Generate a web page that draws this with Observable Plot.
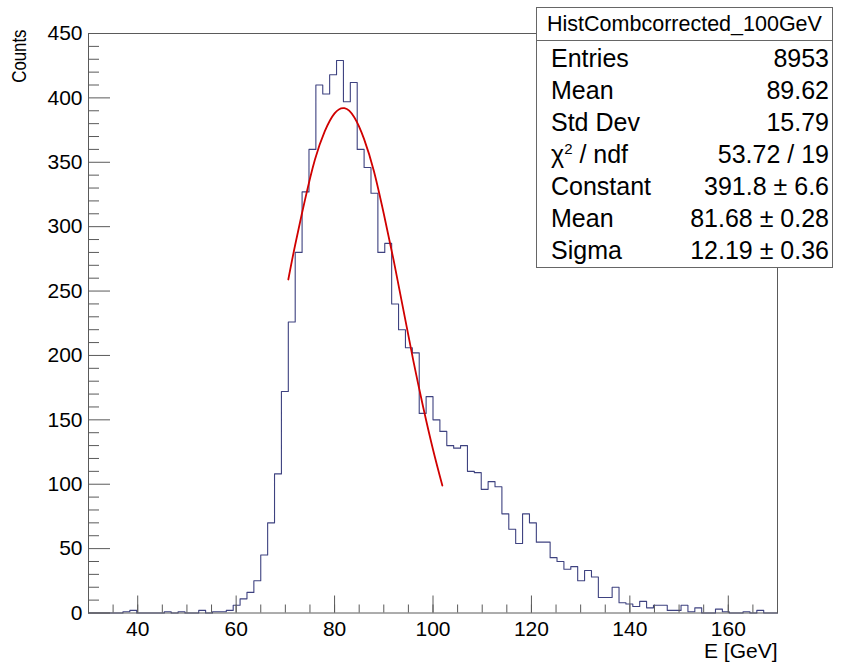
<!DOCTYPE html>
<html><head><meta charset="utf-8">
<script src="https://cdn.jsdelivr.net/npm/d3@7"></script>
<script src="https://cdn.jsdelivr.net/npm/@observablehq/plot@0.6"></script>
<style>
html,body{margin:0;padding:0;background:#fff;}
body{font-family:"Liberation Sans",Arial,Helvetica,sans-serif;}
#wrap{position:relative;width:842px;height:663px;overflow:hidden;background:#fff;}
#wrap svg{position:absolute;left:0;top:0;}
#stats{position:absolute;left:536px;top:7px;width:297px;height:261px;border:1px solid #666;background:#fff;box-sizing:border-box;color:#000;}
#stats .hdr{height:33px;line-height:33px;text-align:center;font-size:21.5px;border-bottom:1px solid #666;box-sizing:border-box;}
#stats .row{position:absolute;left:14px;right:3px;height:32px;line-height:32px;font-size:25px;display:flex;justify-content:space-between;white-space:nowrap;}
#stats sup{font-size:15px;line-height:0;vertical-align:9px;}
</style>
</head><body>
<div id="wrap"></div>
<script>
// Histogram: 100 bins from 30 to 170 GeV (bin width 1.4 GeV)
const binLow = 30;
const binWidth = 1.4;
const counts = [
  0,0,0,0,0,1,2,0,0,0,
  0,1,0,1,0,0,2,0,1,1,
  2,6,11,16,25,45,70,108,172,226,
  280,327,360,410,403,418,429,397,412,360,
  346,326,280,287,240,220,206,202,155,168,
  150,141,130,128,130,110,109,96,102,98,
  77,65,54,77,70,55,55,43,40,34,
  36,25,33,28,12,12,20,8,7,5,
  9,4,6,6,2,2,6,1,4,0,
  0,3,1,0,0,1,0,2,0,0
];
// Gaussian fit curve
const fitE =      [70.6, 72, 74, 76, 78, 80, 82, 84, 86, 88, 90, 92, 94, 96, 98, 100, 101.9];
const fitCounts = [259, 286, 321, 352, 374, 388, 392, 385, 368, 343, 310, 274, 235, 196, 160, 127, 99];

const xTicks = [40, 60, 80, 100, 120, 140, 160];
const xMinorTicks = [35,40,45,50,55,60,65,70,75,80,85,90,95,100,105,110,115,120,125,130,135,140,145,150,155,160,165];
const yTicks = [0, 50, 100, 150, 200, 250, 300, 350, 400, 450];
const yMinorTicks = [10,20,30,40,60,70,80,90,110,120,130,140,160,170,180,190,210,220,230,240,260,270,280,290,310,320,330,340,360,370,380,390,410,420,430,440];

const statTitle = "HistCombcorrected_100GeV";
const statNames = ["Entries", "Mean", "Std Dev", "χ<sup>2</sup> / ndf", "Constant", "Mean", "Sigma"];
const statValues = ["8953", "89.62", "15.79", "53.72 / 19", "391.8 ± 6.6", "81.68 ± 0.28", "12.19 ± 0.36"];

const hist = counts.map((c, i) => ({e: binLow + i * binWidth, c}));
hist.push({e: binLow + counts.length * binWidth, c: counts[counts.length - 1]});
const fit = fitE.map((e, i) => ({e, c: fitCounts[i]}));

const font = "'Liberation Sans', Arial, Helvetica, sans-serif";
const axisColor = "#5a5a5a";

const chart = Plot.plot({
  width: 842,
  height: 663,
  marginLeft: 88,
  marginRight: 65,
  marginTop: 33,
  marginBottom: 50.5,
  x: {domain: [30, 170]},
  y: {domain: [0, 450]},
  style: {fontFamily: font, fontSize: "21px", color: "#000", background: "transparent", overflow: "visible"},
  marks: [
    Plot.lineY(hist, {x: "e", y: "c", curve: "step-after", stroke: "#3e4280", strokeWidth: 1.1}),
    Plot.line(fit, {x: "e", y: "c", curve: "natural", stroke: "#d00000", strokeWidth: 1.8}),
    Plot.frame({stroke: axisColor}),
    Plot.axisX({ticks: xMinorTicks, tickSize: -8, tickFormat: () => "", stroke: axisColor, label: null}),
    Plot.axisX({ticks: xTicks, tickSize: -17, tickFormat: () => "", stroke: axisColor, label: null}),
    Plot.axisX({ticks: xTicks, tickSize: 0, tickPadding: 8, fontSize: 21, fill: "#000", label: null}),
    Plot.axisY({ticks: yMinorTicks, tickSize: -11, tickFormat: () => "", stroke: axisColor, label: null}),
    Plot.axisY({ticks: yTicks, tickSize: -22, tickFormat: () => "", stroke: axisColor, label: null}),
    Plot.axisY({ticks: yTicks, tickSize: 0, tickPadding: 6, fontSize: 21, fill: "#000", label: null}),
    Plot.text(["E [GeV]"], {frameAnchor: "bottom-right", textAnchor: "end", lineAnchor: "bottom", dy: 45, fontSize: 21, fill: "#000"}),
    Plot.text(["Counts"], {frameAnchor: "top-left", rotate: -90, textAnchor: "end", lineAnchor: "middle", dx: -69, dy: -4, fontSize: 21, fill: "#000"})
  ]
});

// the reference's y title is condensed along its length
chart.querySelectorAll("text").forEach((t) => {
  if (t.textContent === "Counts") {
    const tr = t.getAttribute("transform") || "";
    t.setAttribute("transform", tr + " scale(0.8,1)");
  }
});

const wrap = document.getElementById("wrap");
wrap.appendChild(chart);

const stats = document.createElement("div");
stats.id = "stats";
const hdr = document.createElement("div");
hdr.className = "hdr";
hdr.textContent = statTitle;
stats.appendChild(hdr);
statNames.forEach((n, i) => {
  const row = document.createElement("div");
  row.className = "row";
  row.style.top = (34 + i * 32) + "px";
  const a = document.createElement("span");
  a.innerHTML = n;
  const b = document.createElement("span");
  b.textContent = statValues[i];
  row.appendChild(a);
  row.appendChild(b);
  stats.appendChild(row);
});
wrap.appendChild(stats);
</script>
</body></html>
